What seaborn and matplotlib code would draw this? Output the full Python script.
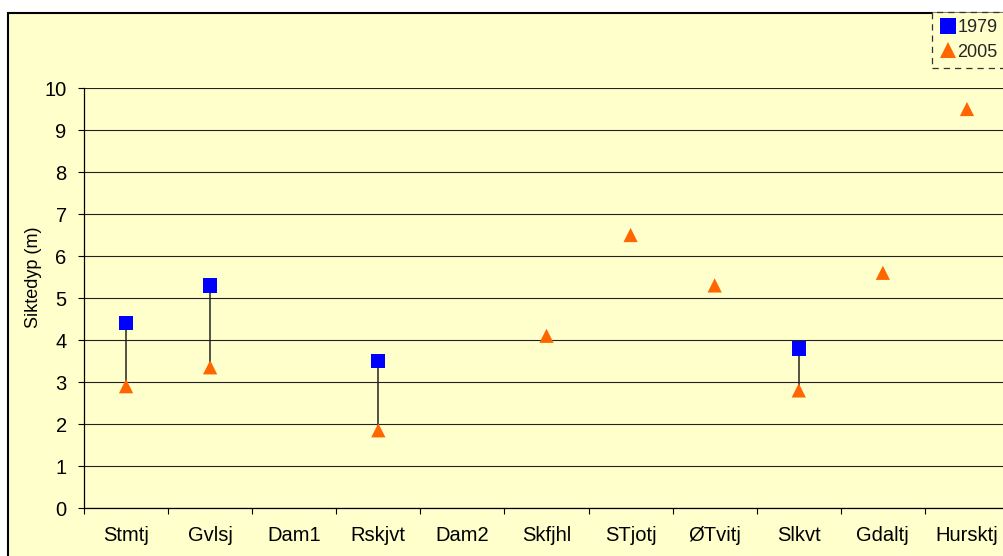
import numpy as np
import pandas as pd
import matplotlib
matplotlib.use("Agg")
import matplotlib.pyplot as plt
from matplotlib.patches import Rectangle
from matplotlib.lines import Line2D
import matplotlib.transforms as mtransforms
import seaborn as sns

# Lakes along the x axis
lakes = ["Stmtj", "Gvlsj", "Dam1", "Rskjvt", "Dam2", "Skfjhl",
         "STjotj", "ØTvitj", "Slkvt", "Gdaltj", "Hursktj"]
# Secchi depth (m) per year; NaN = not measured
depth_1979 = [4.4, 5.3, np.nan, 3.5, np.nan, np.nan,
              np.nan, np.nan, 3.8, np.nan, np.nan]
depth_2005 = [2.9, 3.35, np.nan, 1.85, np.nan, 4.1,
              6.5, 5.3, 2.8, 5.6, 9.5]
years = ["1979", "2005"]
y_ticks = list(range(0, 11))

BG = "#FFFFCC"
COLORS = {"1979": "#0000FF", "2005": "#FF6600"}
MARKERS = {"1979": "s", "2005": "^"}

sns.set_theme(style="white")
plt.rcParams["font.family"] = ["Liberation Sans", "DejaVu Sans"]

W, H = 1004, 556
fig = plt.figure(figsize=(W / 100, H / 100), dpi=100, facecolor="white")

# chart frame
fig.patches.append(Rectangle((8.5 / W, -0.2), 1.2, (H - 12.5) / H + 0.2,
                             transform=fig.transFigure, facecolor=BG,
                             edgecolor="black", linewidth=1.5, zorder=-10))

ax = fig.add_axes([84 / W, 48 / H, 925 / W, 420 / H])
ax.set_facecolor(BG)

pos = np.arange(len(lakes))
df = pd.DataFrame({
    "pos": np.concatenate([pos, pos]),
    "depth": np.concatenate([depth_1979, depth_2005]),
    "year": [years[0]] * len(lakes) + [years[1]] * len(lakes),
}).dropna()

# high-low connectors between the two years
a = np.array(depth_1979, dtype=float)
b = np.array(depth_2005, dtype=float)
both = ~np.isnan(a) & ~np.isnan(b)
ax.vlines(pos[both], b[both], a[both], color="#222222", linewidth=1.1, zorder=2)

sns.scatterplot(data=df, x="pos", y="depth", hue="year", style="year",
                palette=COLORS, markers=MARKERS, s=105, linewidth=0,
                legend=False, ax=ax, zorder=3)

ax.set_xlim(-0.5, len(lakes) - 0.5)
ax.set_ylim(0, 10)
ax.set_yticks(y_ticks)
ax.set_xticks(pos)
ax.set_xticklabels(lakes)

# category separators: short tick marks below the axis between lakes
edges = np.arange(len(lakes) + 1) - 0.5
sep_tr = mtransforms.blended_transform_factory(ax.transData, ax.transAxes)
separators = ax.vlines(edges, -6 / 420, 0, transform=sep_tr, color="black",
                       linewidth=0.8, clip_on=False)

ax.tick_params(axis="x", length=0, pad=13, labelsize=14.5,
               labelcolor="black")
ax.tick_params(axis="y", length=4.5, width=0.8, color="black",
               direction="out", left=True, pad=8, labelsize=14.5,
               labelcolor="black")

# horizontal gridlines only
ax.grid(False)
ax.yaxis.grid(True, color="#222222", linewidth=0.8)
ax.set_axisbelow(True)

for side in ("top", "right"):
    ax.spines[side].set_visible(False)
for side in ("left", "bottom"):
    ax.spines[side].set_color("black")
    ax.spines[side].set_linewidth(0.9)

ax.set_xlabel("")
ax.set_ylabel("Siktedyp (m)", fontsize=13, color="black")
ax.yaxis.set_label_coords(-0.0454, 0.549)

handles = [
    Line2D([], [], linestyle="none", marker="s", markersize=12,
           markerfacecolor=COLORS["1979"], markeredgewidth=0),
    Line2D([], [], linestyle="none", marker="^", markersize=11.5,
           markerfacecolor=COLORS["2005"], markeredgewidth=0),
]
leg = fig.legend(handles, years, loc="upper left",
                 bbox_to_anchor=(932 / W, 1 - 12 / H),
                 bbox_transform=fig.transFigure, borderaxespad=0,
                 fontsize=13, frameon=True, fancybox=False,
                 borderpad=0.4, handlelength=1.0, handletextpad=0.0,
                 labelspacing=0.42)
frame = leg.get_frame()
frame.set_facecolor(BG)
frame.set_edgecolor("#333333")
frame.set_linestyle((0, (5, 4)))
frame.set_linewidth(0.9)
frame.set_alpha(1)

fig.savefig("out.png", dpi=100, facecolor="white")

# the separators belong below the axis only; if any of them shows up inside
# the plot area (between gridlines, away from markers), drop them and re-save
img = plt.imread("out.png")[..., :3]
row = int(round(H - (48 + 420 * 0.45)))  # halfway between y=4 and y=5
cols = [int(round(84 + 925 * (k / len(lakes)))) for k in range(2, len(lakes))]
bg_rgb = np.array(matplotlib.colors.to_rgb(BG))
stray = any(np.abs(img[row, c - 1:c + 2] - bg_rgb).max() > 0.1 for c in cols)
if stray:
    separators.remove()
    fig.savefig("out.png", dpi=100, facecolor="white")
